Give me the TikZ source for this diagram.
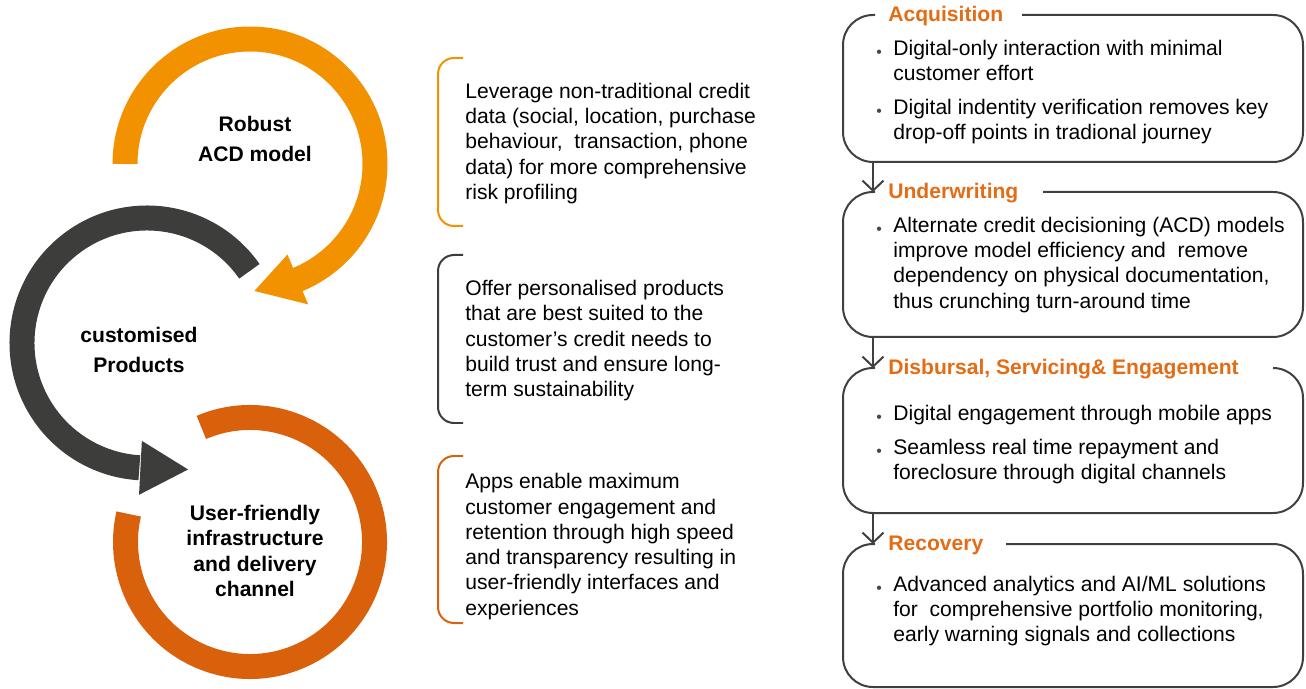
\documentclass[tikz,border=0pt]{standalone}
\usepackage{fontspec}
\setmainfont{Liberation Sans}
\usetikzlibrary{arrows.meta,calc}

\definecolor{orangeL}{RGB}{243,146,0}
\definecolor{orangeD}{RGB}{217,97,12}
\definecolor{headorange}{RGB}{227,108,20}
\definecolor{grayD}{RGB}{61,61,59}
\definecolor{lineGray}{RGB}{64,64,64}
\definecolor{dotGray}{RGB}{70,70,70}

\newcommand{\basefont}{\fontsize{12pt}{14.4pt}\selectfont}
\newcommand{\bul}{\llap{\textcolor{dotGray}{\fontsize{9pt}{9pt}\selectfont\raisebox{-1.3pt}{\textbullet}}\hskip 6.5pt}}

\tikzset{
  ring/.style={line width=0.5cm},
  bracket/.style={line width=0.04cm, rounded corners=0.32cm},
  stagebox/.style={draw=lineGray, line width=0.04cm, rounded corners=0.6cm},
  flow/.style={draw=lineGray, line width=0.04cm, -{Straight Barb[length=0.2cm,width=0.42cm]}},
  hub/.style={font={\fontsize{12pt}{17.6pt}\selectfont\bfseries}, align=center, inner sep=0pt},
  body/.style={font=\basefont, align=left, anchor=north west, inner sep=0pt},
  heading/.style={font=\basefont\bfseries, text=headorange, anchor=base west, inner sep=0pt},
}

\begin{document}
\begin{tikzpicture}[x=0.02cm, y=-0.02cm]
  \useasboundingbox (0,0) rectangle (1306,689);
  % three rings of the cycle
  \coordinate (cTop) at (250,164);
  \coordinate (cMid) at (147,343);
  \coordinate (cLow) at (250,542);
  \draw[ring, orangeL] ($(cTop)+(180:125)$) arc[start angle=180, end angle=428, radius=125];
  \fill[orangeL] ($(cTop)+(67.5:98)$) -- ($(cTop)+(67.5:152)$) -- ($(cTop)+(88:127)$) -- cycle;
  \draw[ring, grayD] ($(cMid)+(-35:125)$) arc[start angle=-35, end angle=-266.5, radius=125];
  \fill[grayD] ($(cMid)+(93:98)$) -- ($(cMid)+(93:152)$) -- ($(cMid)+(72:133)$) -- cycle;
  \draw[ring, orangeD] ($(cLow)+(-113:124.5)$) arc[start angle=-113, end angle=193, radius=124.5];
  \node[hub] (acd) at (255,139) {Robust\\ACD model};
  \node[hub] (prod) at (139,350) {customised\\Products};
  \node[hub, font={\fontsize{12pt}{14.4pt}\selectfont\bfseries}] (infra) at (255,551) {User-friendly\\infrastructure\\and delivery\\channel};

  % brackets and notes
  \foreach \t/\b/\c in {58/226/orangeL, 255/423/grayD, 456/623/orangeD}
    \draw[bracket, \c] (463,\t) -- (438,\t) -- (438,\b) -- (463,\b);
  \node[body] (lever) at (465,82.5) {Leverage non-traditional credit\\data (social, location, purchase\\behaviour,\ \ transaction, phone\\data) for more comprehensive\\risk profiling};
  \node[body] (offer) at (465,279.8) {Offer personalised products\\that are best suited to the\\customer’s credit needs to\\build trust and ensure long-\\term sustainability};
  \node[body] (apps) at (465,473.1) {Apps enable maximum\\customer engagement and\\retention through high speed\\and transparency resulting in\\user-friendly interfaces and\\experiences};

  % journey stages
  \foreach \n/\t/\b/\g/\h in {1/15/162/1022/Acquisition, 2/192/337/1043/Underwriting, {3/368/513/1273/Disbursal, Servicing\& Engagement}, 4/544/687/1006/Recovery} {
    \node[heading] (hd\n) at (888,\t+6.5) {\h};
    \draw[stagebox] (\g,\t) -- (1303,\t) -- (1303,\b) -- (843,\b) -- (843,\t) -- (875,\t);
    \coordinate (s\n) at (873,\b);
    \coordinate (n\n) at (873,\t);
  }
  \foreach \i/\j in {1/2, 2/3, 3/4}
    \draw[flow] (s\i) -- (n\j);
  \node[body] (acq) at (893,39.8) {\bul Digital-only interaction with minimal\\customer effort\\[4.8pt]\bul Digital indentity verification removes key\\drop-off points in tradional journey};
  \node[body] (uw) at (893,216.5) {\bul Alternate credit decisioning (ACD) models\\improve model efficiency and\ \ remove\\dependency on physical documentation,\\thus crunching turn-around time};
  \node[body] (dse) at (893,404.8) {\bul Digital engagement through mobile apps\\[4.8pt]\bul Seamless real time repayment and\\foreclosure through digital channels};
  \node[body] (rec) at (893,575.5) {\bul Advanced analytics and AI/ML solutions\\for\ \ comprehensive portfolio monitoring,\\early warning signals and collections};
\end{tikzpicture}
\end{document}
